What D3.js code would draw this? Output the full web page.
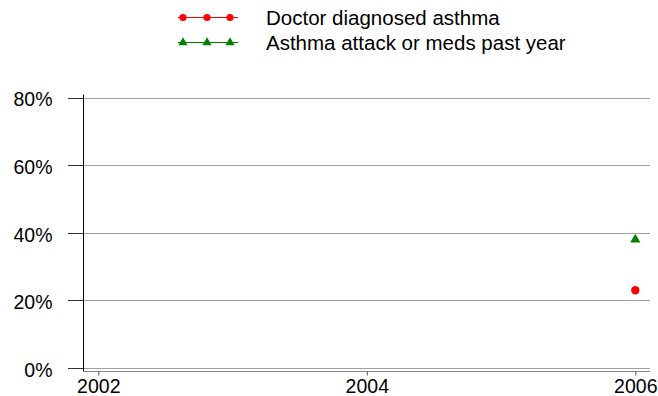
<!DOCTYPE html>
<html>
<head>
<meta charset="utf-8">
<script src="https://cdn.jsdelivr.net/npm/d3@7"></script>
<style>
  html, body { margin: 0; padding: 0; background: #fff; overflow: hidden; }
  svg text { font-family: Arial, "Liberation Sans", sans-serif; fill: #000; }
</style>
</head>
<body>
<svg id="chart" width="658" height="396"></svg>
<script>
// Survey years shown on the x axis
const years = [2002, 2004, 2006];
const yTicks = [0, 0.2, 0.4, 0.6, 0.8];

// Only 2006 has observations
const seriesNames = ["Doctor diagnosed asthma", "Asthma attack or meds past year"];
const diagnosedYears = [2006];
const diagnosedValues = [0.23];
const attackYears = [2006];
const attackValues = [0.38];

const svg = d3.select("#chart");
const plotLeft = 83, plotRight = 650, plotTop = 97.5, plotBottom = 368;

const x = d3.scaleLinear().domain([2002, 2006]).range([98.3, 635.3]);
const y = d3.scaleLinear().domain([0, 0.8]).range([plotBottom, plotTop]);

// Horizontal gridlines with short ticks left of the axis
const grid = svg.append("g");
grid.selectAll("line.grid").data(yTicks).join("line")
  .attr("class", "grid")
  .attr("x1", 68).attr("x2", plotRight)
  .attr("y1", d => Math.round(y(d)) + 0.5).attr("y2", d => Math.round(y(d)) + 0.5)
  .attr("stroke", "#a0a0a0").attr("stroke-width", 1);
grid.selectAll("line.tick").data(yTicks).join("line")
  .attr("class", "tick")
  .attr("x1", 68).attr("x2", plotLeft)
  .attr("y1", d => Math.round(y(d)) + 0.5).attr("y2", d => Math.round(y(d)) + 0.5)
  .attr("stroke", "#333").attr("stroke-width", 1);

// Y axis
const yAxis = d3.axisLeft(y).tickValues(yTicks).tickFormat(d3.format(".0%")).tickSize(0).tickPadding(31);
svg.append("g").attr("transform", `translate(${plotLeft + 0.5},0)`).call(yAxis)
  .call(g => g.select(".domain").attr("d", `M0,${plotTop - 3}V${plotBottom + 4}`).attr("stroke", "#000"))
  .call(g => g.selectAll("text").attr("font-size", 19.5).attr("dy", "0.43em")
    .style("font-family", "Arial, 'Liberation Sans', sans-serif"));

// X axis
const xAxis = d3.axisBottom(x).tickValues(years).tickFormat(d3.format("d")).tickSize(4);
svg.append("g").attr("transform", `translate(0,${plotBottom + 3.5})`).call(xAxis)
  .call(g => g.select(".domain").attr("d", `M${plotLeft},0H${plotRight}`).attr("stroke", "#888"))
  .call(g => g.selectAll(".tick line").attr("stroke", "#555"))
  .call(g => g.selectAll("text").attr("font-size", 19.5).attr("y", 21.5).attr("dy", 0)
    .style("font-family", "Arial, 'Liberation Sans', sans-serif"));

// Data points
const circleSym = d3.symbol().type(d3.symbolCircle).size(55);
const triSym = d3.symbol().type(d3.symbolTriangle).size(45);

svg.append("g").selectAll("path").data(diagnosedYears.map((yr, i) => [yr, diagnosedValues[i]])).join("path")
  .attr("d", circleSym)
  .attr("transform", d => `translate(${x(d[0])},${y(d[1])})`)
  .attr("fill", "red");

svg.append("g").selectAll("path").data(attackYears.map((yr, i) => [yr, attackValues[i]])).join("path")
  .attr("d", triSym)
  .attr("transform", d => `translate(${x(d[0])},${y(d[1])})`)
  .attr("fill", "green");

// Legend
const legend = svg.append("g");
const legendCircle = d3.symbol().type(d3.symbolCircle).size(40);
const legendTri = d3.symbol().type(d3.symbolTriangle).size(36);
const legendRows = [
  { name: seriesNames[0], color: "red", sym: legendCircle, cy: 17.5, base: 25 },
  { name: seriesNames[1], color: "green", sym: legendTri, cy: 42.5, base: 49.5 }
];
legendRows.forEach(r => {
  legend.append("line").attr("x1", 178).attr("x2", 238).attr("y1", r.cy).attr("y2", r.cy)
    .attr("stroke", r.color).attr("stroke-width", 1);
  [183, 207, 230].forEach(cx => {
    legend.append("path").attr("d", r.sym).attr("transform", `translate(${cx},${r.cy})`)
      .attr("fill", r.color);
  });
  legend.append("text").attr("x", 266).attr("y", r.base)
    .attr("font-size", 20.5).text(r.name);
});
</script>
</body>
</html>
